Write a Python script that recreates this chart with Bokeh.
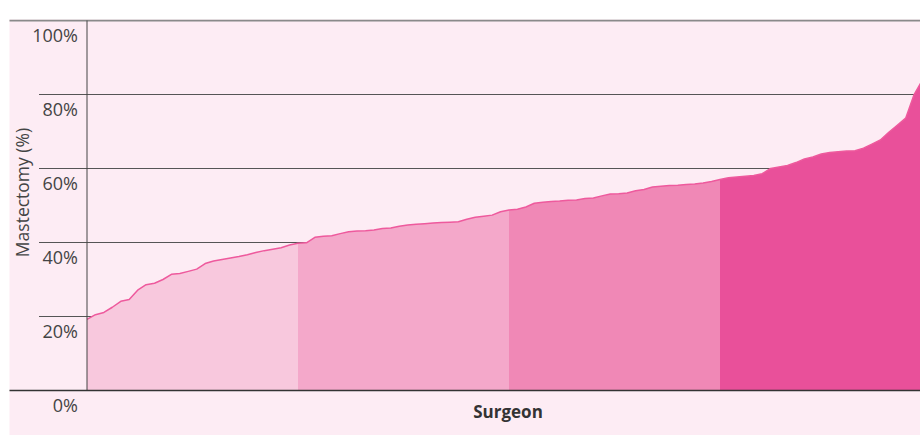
from bokeh.plotting import figure
from bokeh.models import Range1d
from bokeh.core.properties import value
from bokeh.embed import file_html
from bokeh.resources import INLINE
import math

# ---- data ----
surgeon_rank = list(range(101))
mastectomy_pct = [
    19.2, 20.5, 21.1, 22.5, 24.1, 24.6, 27.1, 28.6, 29.0, 30.0,
    31.4, 31.6, 32.2, 32.8, 34.3, 35.0, 35.4, 35.8, 36.2, 36.7,
    37.3, 37.8, 38.2, 38.6, 39.3, 39.8, 39.9, 41.4, 41.7, 41.8,
    42.4, 42.9, 43.1, 43.2, 43.4, 43.8, 43.9, 44.4, 44.7, 44.9,
    45.1, 45.3, 45.4, 45.5, 45.6, 46.3, 46.8, 47.1, 47.4, 48.3,
    48.8, 49.0, 49.6, 50.6, 50.9, 51.1, 51.2, 51.4, 51.5, 51.9,
    52.0, 52.6, 53.1, 53.2, 53.4, 54.0, 54.3, 55.0, 55.2, 55.4,
    55.5, 55.7, 55.8, 56.1, 56.5, 57.0, 57.5, 57.7, 57.9, 58.1,
    58.6, 60.0, 60.4, 60.8, 61.6, 62.6, 63.1, 63.9, 64.3, 64.5,
    64.7, 64.8, 65.5, 66.6, 67.7, 69.8, 71.7, 73.6, 80.0, 84.0,
    88.0,
]
quartile_bounds = [0, 25, 50, 75, 100]
y_ticks = [0, 20, 40, 60, 80, 100]
y_tick_labels = ["0%", "20%", "40%", "60%", "80%", "100%"]
x_title = "Surgeon"
y_title = "Mastectomy (%)"

# ---- styling ----
quartile_colors = ["#f8c8dd", "#f4a8ca", "#f088b6", "#e9509a"]
bg = "#fdecf4"
font = value("Open Sans")

# pixel mapping helpers (frame spans x 9..920, y 19..435)
kx = 211.0 / 25.0            # px per surgeon rank
ky = 3.70                    # px per percent
x_start = -(88 - 9 - 1.5) / kx
x_end = x_start + 911 / kx
y_end = 100 + 1 / ky
y_start = -(435 - 390) / ky

p = figure(width=920, height=435, output_backend="svg", toolbar_location=None,
           x_axis_type=None, y_axis_type=None, title=None,
           x_range=Range1d(x_start, x_end), y_range=Range1d(y_start, y_end),
           min_border_left=9, min_border_right=0, min_border_top=19, min_border_bottom=0)
p.background_fill_color = bg
p.border_fill_color = "white"
p.outline_line_color = None

# gridlines (behind areas)
grid_ys = [t for t in y_ticks if 0 < t < 100]
p.multi_line(xs=[[-48 / kx, x_end + 5] for _ in grid_ys], ys=[[t, t] for t in grid_ys],
             line_color="#555555", line_width=1)
p.line(x=[x_start - 5, x_end + 5], y=[100, 100], line_color="#8a8a8a", line_width=2)

# quartile areas
for q in range(4):
    a, b = quartile_bounds[q], quartile_bounds[q + 1]
    p.varea(x=surgeon_rank[a:b + 1], y1=[0] * (b - a + 1), y2=mastectomy_pct[a:b + 1],
            fill_color=quartile_colors[q])

# curve line
p.line(x=surgeon_rank, y=mastectomy_pct, line_color="#ee5a9d", line_width=1.5)

# axis lines
p.line(x=[0, 0], y=[0, 100], line_color="#444444", line_width=1)
p.line(x=[x_start - 5, x_end + 5], y=[0, 0], line_color="#333333", line_width=1.5)

# tick labels
p.text(x=[-9 / kx] * len(y_ticks), y=[t - 14 / ky for t in y_ticks], text=y_tick_labels,
       text_align="right", text_baseline="middle", text_font=font,
       text_font_size="18px", text_color="#444444")

# axis titles
p.text(x=[(22.5 - 88) / kx], y=[(390 - 192) / ky], text=[y_title], angle=math.pi / 2,
       text_align="center", text_baseline="middle", text_font=font,
       text_font_size="17.5px", text_color="#444444")
p.text(x=[(509 - 88) / kx], y=[(390 - 411) / ky], text=[x_title],
       text_align="center", text_baseline="middle", text_font=font,
       text_font_size="17px", text_font_style="bold", text_color="#333333")

open("out.html", "w").write(file_html(p, INLINE))
